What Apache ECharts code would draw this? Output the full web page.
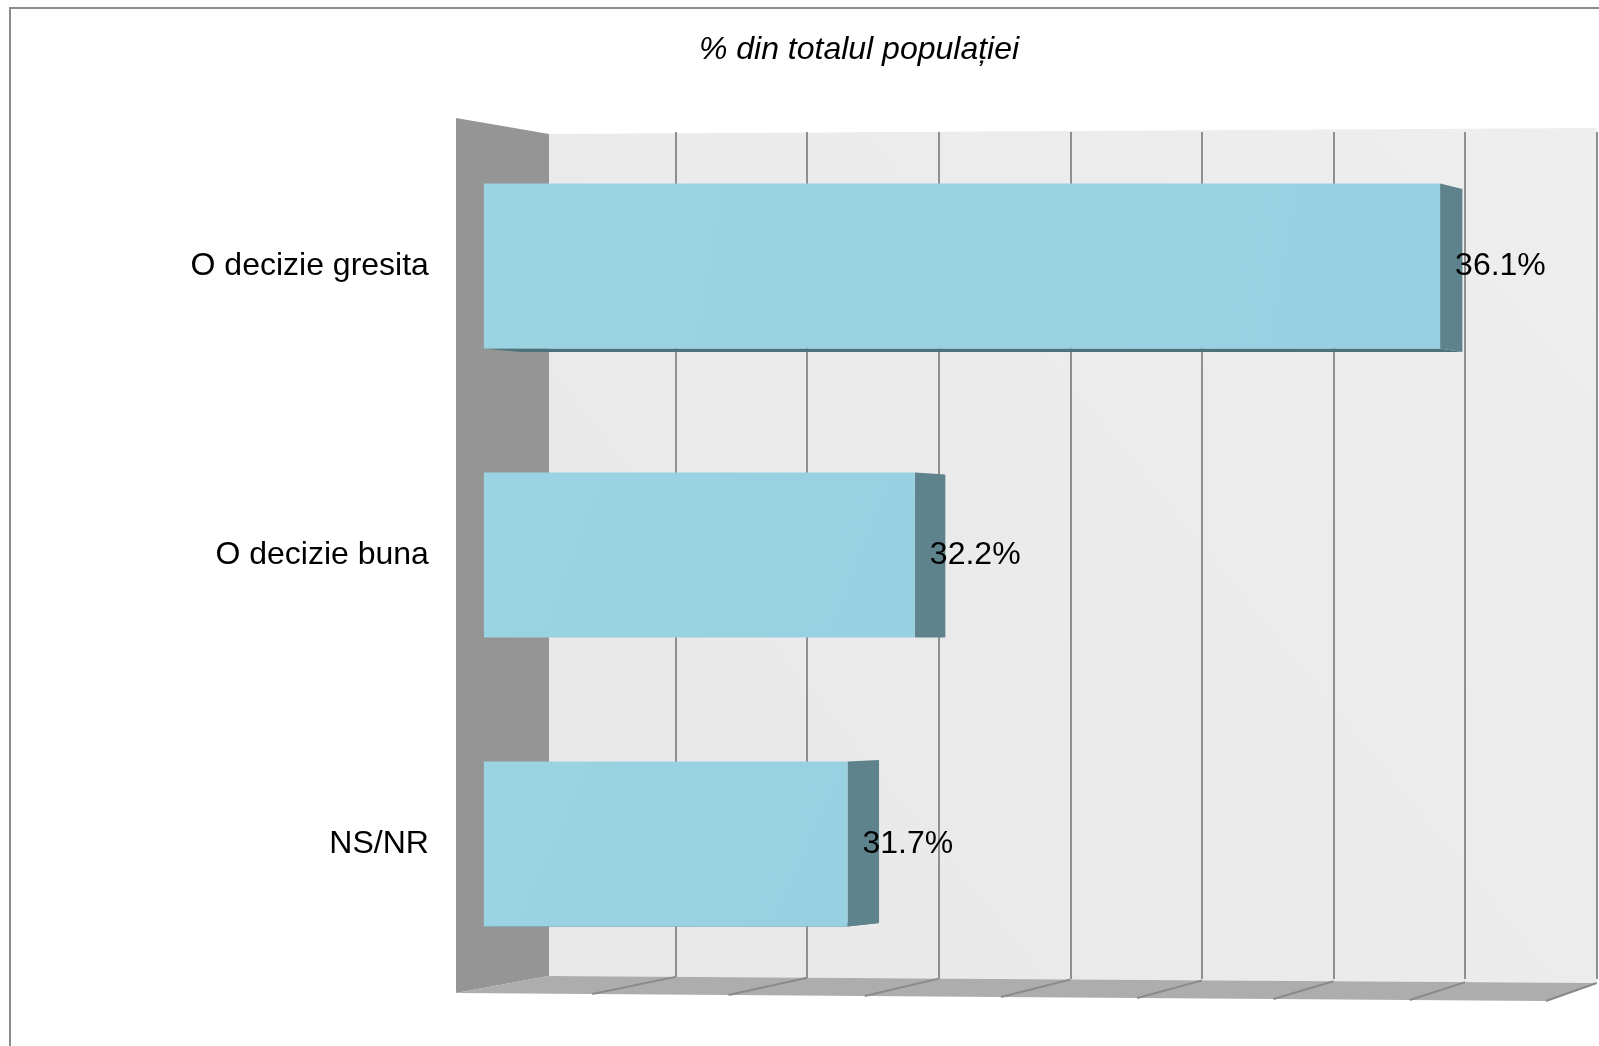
<!DOCTYPE html>
<html>
<head>
<meta charset="utf-8">
<script src="https://cdn.jsdelivr.net/npm/echarts@6/dist/echarts.min.js"></script>
<style>
html,body{margin:0;padding:0;background:#fff;}
#chart{width:1599px;height:1046px;}
</style>
</head>
<body>
<div id="chart"></div>
<script>
// ---- data ----
const categories = ['O decizie gresita', 'O decizie buna', 'NS/NR'];
const values = [36.1, 32.2, 31.7];
const axisMin = 29;
const axisMax = 37;
const axisTicks = [29, 30, 31, 32, 33, 34, 35, 36, 37];
const titleText = '% din totalul populației';

// ---- 3D frame geometry (front plane / back plane of the box) ----
const FONT = 'Liberation Sans, Arial, sans-serif';
const FRONT_L = 456, FRONT_SCALE = 136.25, FRONT_YL = 993, FRONT_YR = 1001;
const BACK_L = 549, BACK_SCALE = 131, BACK_YL = 976, BACK_YR = 983;
const BACK_GRID_L = 544, BACK_GRID_SCALE = 131.6;
const BAR_T0 = 0.3, BAR_T1 = 0.7;           // depth range of the bars
const span = axisMax - axisMin;
const frontGridLeft = FRONT_L + BAR_T0 * (BACK_L - FRONT_L);
const frontScale = FRONT_SCALE + BAR_T0 * (BACK_SCALE - FRONT_SCALE);
const BAR_H = 165;
const VANISH_Y = 640, VANISH_K = 0.012;
const backRight = BACK_GRID_L + span * BACK_GRID_SCALE;

function depthAt(v) { // horizontal offset front->back at value v
  return (BACK_L - FRONT_L) + (v - axisMin) * (BACK_SCALE - FRONT_SCALE);
}

// frame graphics
const graphics = [];
graphics.push({
  type: 'rect', z: 0, silent: true,
  shape: {x: 10, y: 8, width: 1700, height: 1200},
  style: {fill: 'none', stroke: '#8c8c8c', lineWidth: 2}
});
// back wall
graphics.push({
  type: 'polygon', z: -1, silent: true,
  shape: {points: [[BACK_L, 134], [backRight, 128], [backRight, BACK_YR], [BACK_L, BACK_YL]]},
  style: {fill: {type: 'linear', x: 0, y: 1, x2: 1, y2: 0,
                 colorStops: [{offset: 0, color: '#e8e8e8'}, {offset: 1, color: '#eeeeee'}]}}
});
// left wall
graphics.push({
  type: 'polygon', z: 1, silent: true,
  shape: {points: [[FRONT_L, 118], [BACK_L, 134], [BACK_L, BACK_YL], [FRONT_L, FRONT_YL]]},
  style: {fill: '#959595'}
});
// floor
graphics.push({
  type: 'polygon', z: 1, silent: true,
  shape: {points: [[FRONT_L, FRONT_YL], [FRONT_L + span * FRONT_SCALE, FRONT_YR],
                   [backRight, BACK_YR], [BACK_L, BACK_YL]]},
  style: {fill: '#adadad'}
});
// floor tick lines
axisTicks.forEach(function (t) {
  if (t === axisMin) return;
  const f = (t - axisMin) / span;
  graphics.push({
    type: 'line', z: 1, silent: true,
    shape: {x1: FRONT_L + (t - axisMin) * FRONT_SCALE, y1: FRONT_YL + f * (FRONT_YR - FRONT_YL),
            x2: BACK_GRID_L + (t - axisMin) * BACK_GRID_SCALE, y2: BACK_YL + f * (BACK_YR - BACK_YL)},
    style: {stroke: '#8a8a8a', lineWidth: 2}
  });
});
// title
graphics.push({
  type: 'text', z: 5, x: 859, y: 50,
  style: {text: titleText, font: 'italic 32px ' + FONT, fill: '#000',
          textAlign: 'center', textVerticalAlign: 'middle'}
});

const chart = echarts.init(document.getElementById('chart'));
const option = {
  animation: false,
  backgroundColor: '#ffffff',
  graphic: graphics,
  grid: [
    { // front plane of the bars
      left: frontGridLeft, width: span * frontScale, top: 121.5, height: 867,
      containLabel: false
    },
    { // back wall
      left: BACK_GRID_L, width: span * BACK_GRID_SCALE, top: 132, height: 847,
      show: false
    }
  ],
  xAxis: [
    {gridIndex: 0, type: 'value', min: axisMin, max: axisMax, interval: 1,
     axisLabel: {show: false}, axisLine: {show: false}, axisTick: {show: false},
     splitLine: {show: false}},
    {gridIndex: 1, type: 'value', min: axisMin, max: axisMax, interval: 1,
     axisLabel: {show: false}, axisLine: {show: false}, axisTick: {show: false},
     splitLine: {show: true, showMinLine: false, lineStyle: {color: '#8f8f8f', width: 2}}}
  ],
  yAxis: [
    {gridIndex: 0, type: 'category', data: categories, inverse: true,
     axisLine: {show: false}, axisTick: {show: false},
     axisLabel: {color: '#000', fontSize: 32, fontFamily: FONT, margin: 55,
                 padding: [10, 0, 0, 0]}},
    {gridIndex: 1, type: 'value', show: false}
  ],
  series: [
    { // side & bottom faces
      type: 'custom', xAxisIndex: 0, yAxisIndex: 0, z: 2,
      data: values.map(function (v, i) { return [v, i]; }),
      renderItem: function (params, api) {
        const v = api.value(0), idx = api.value(1);
        const p = api.coord([v, idx]);
        const p0 = api.coord([axisMin, idx]);
        const top = p[1] - BAR_H / 2, bot = p[1] + BAR_H / 2;
        const dF = BAR_T1 - BAR_T0;
        const dx = dF * depthAt(v);
        const dx0 = dF * depthAt(axisMin);
        const dyT = (VANISH_Y - top) * VANISH_K;
        const dyB = (VANISH_Y - bot) * VANISH_K;
        return {
          type: 'group',
          children: [
            {type: 'polygon', shape: {points: [[p0[0], bot], [p[0], bot], [p[0] + dx, bot + dyB], [p0[0] + dx0, bot + dyB]]},
             style: {fill: '#4d727c'}},
            {type: 'polygon', shape: {points: [[p[0], top], [p[0] + dx, top + dyT], [p[0] + dx, bot + dyB], [p[0], bot]]},
             style: {fill: '#5e838c'}}
          ]
        };
      }
    },
    { // front faces
      type: 'bar', xAxisIndex: 0, yAxisIndex: 0, z: 3,
      data: values, barWidth: BAR_H,
      itemStyle: {
        color: {type: 'linear', x: 0, y: 0, x2: 1, y2: 1,
                colorStops: [{offset: 0, color: '#9ad3e2'}, {offset: 1, color: '#97d0e0'}]}
      },
      label: {show: true, position: 'right', distance: 15, color: '#000',
              fontSize: 32, fontFamily: FONT, padding: [8, 0, 0, 0],
              formatter: function (p) { return p.value.toFixed(1) + '%'; }}
    }
  ]
};
chart.setOption(option);
</script>
</body>
</html>
